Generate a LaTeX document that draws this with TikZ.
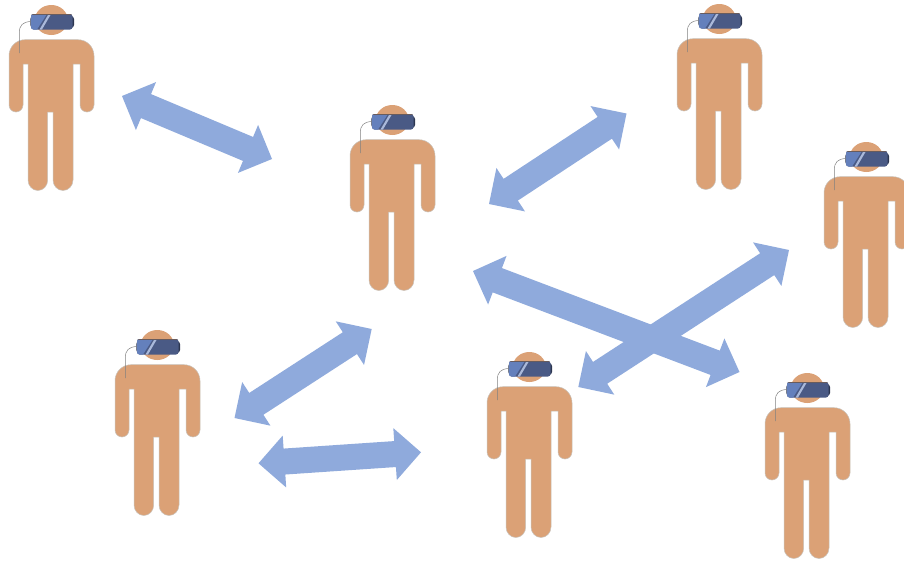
\documentclass[tikz,border=0pt]{standalone}
\definecolor{skin}{HTML}{DBA176}
\definecolor{arrowblue}{HTML}{8FAADC}
\definecolor{visordark}{HTML}{4A5A85}
\definecolor{visorlight}{HTML}{6480BC}
\definecolor{capdark}{HTML}{2C3650}
\definecolor{bodyedge}{HTML}{C9C3BC}
\tikzset{
  dblarrow/.style={fill=arrowblue,draw=none},
  person/.pic={
    \fill[skin] (51.3,20) ellipse[x radius=16.5,y radius=15];
    \fill[draw=bodyedge,line width=0.5pt,fill=skin]
      (25,39.7) -- (78,39.7) arc[start angle=-90,end angle=0,x radius=16,y radius=16]
      -- (94,105) arc[start angle=0,end angle=180,x radius=7,y radius=7]
      -- (80,64) -- (73,64) -- (73,180)
      arc[start angle=0,end angle=180,x radius=10,y radius=10.5]
      -- (53,112) -- (47.7,112) -- (47.7,180)
      arc[start angle=0,end angle=180,x radius=9.85,y radius=10.5]
      -- (28,64) -- (23,64) -- (23,105)
      arc[start angle=0,end angle=180,x radius=7,y radius=7]
      -- (9,55.7) arc[start angle=180,end angle=270,x radius=16,y radius=16] -- cycle;
    \fill[capdark,rounded corners=3pt] (30.3,16) rectangle (74,28);
    \fill[visordark,rounded corners=2.5pt] (31,14) rectangle (72.5,29.5);
    \begin{scope}
      \clip[rounded corners=2.5pt] (31,14) rectangle (72.5,29.5);
      \fill[visorlight] (31,14) -- (47,14) -- (37,29.5) -- (31,29.5) -- cycle;
      \fill[visorlight!55!white] (48,15) -- (50.5,15) -- (42,29.5) -- (39.5,29.5) -- cycle;
      \fill[capdark!65!skin] (31,14) rectangle (72.5,15.3);
    \end{scope}
    \draw[gray,line width=0.5pt] (30.5,21.5) .. controls (23,22) and (19.3,25) .. (19.3,33) -- (19.3,53);
  }
}
\begin{document}
\begin{tikzpicture}[x=1pt,y=-1pt]
\useasboundingbox (0,0) rectangle (904,560);
\fill[white] (0,0) rectangle (904,560);
\foreach \xa/\ya/\xb/\yb in {
  122/96/272/159,
  626.5/113.5/489/204,
  473/271/739.5/372,
  789/250/578.3/387,
  371.7/329/234.5/418,
  258.5/463.3/421/452.3}{
  \pgfmathsetmacro{\dx}{\xb-\xa}
  \pgfmathsetmacro{\dy}{\yb-\ya}
  \pgfmathsetmacro{\len}{veclen(\dx,\dy)}
  \pgfmathsetmacro{\ux}{\dx/\len}
  \pgfmathsetmacro{\uy}{\dy/\len}
  \pgfmathsetmacro{\nx}{-\uy}
  \pgfmathsetmacro{\ny}{\ux}
  \def\hl{26}\def\hw{26}\def\sw{13}
  \fill[dblarrow]
    (\xa,\ya)
    -- ({\xa+\hl*\ux+\hw*\nx},{\ya+\hl*\uy+\hw*\ny})
    -- ({\xa+\hl*\ux+\sw*\nx},{\ya+\hl*\uy+\sw*\ny})
    -- ({\xb-\hl*\ux+\sw*\nx},{\yb-\hl*\uy+\sw*\ny})
    -- ({\xb-\hl*\ux+\hw*\nx},{\yb-\hl*\uy+\hw*\ny})
    -- (\xb,\yb)
    -- ({\xb-\hl*\ux-\hw*\nx},{\yb-\hl*\uy-\hw*\ny})
    -- ({\xb-\hl*\ux-\sw*\nx},{\yb-\hl*\uy-\sw*\ny})
    -- ({\xa+\hl*\ux-\sw*\nx},{\ya+\hl*\uy-\sw*\ny})
    -- ({\xa+\hl*\ux-\hw*\nx},{\ya+\hl*\uy-\hw*\ny})
    -- cycle;
}
\pic at (0,0) {person};
\pic at (341,100) {person};
\pic at (668,-1) {person};
\pic at (815,137) {person};
\pic at (106,325) {person};
\pic at (478,347) {person};
\pic at (756,368) {person};
\end{tikzpicture}
\end{document}
